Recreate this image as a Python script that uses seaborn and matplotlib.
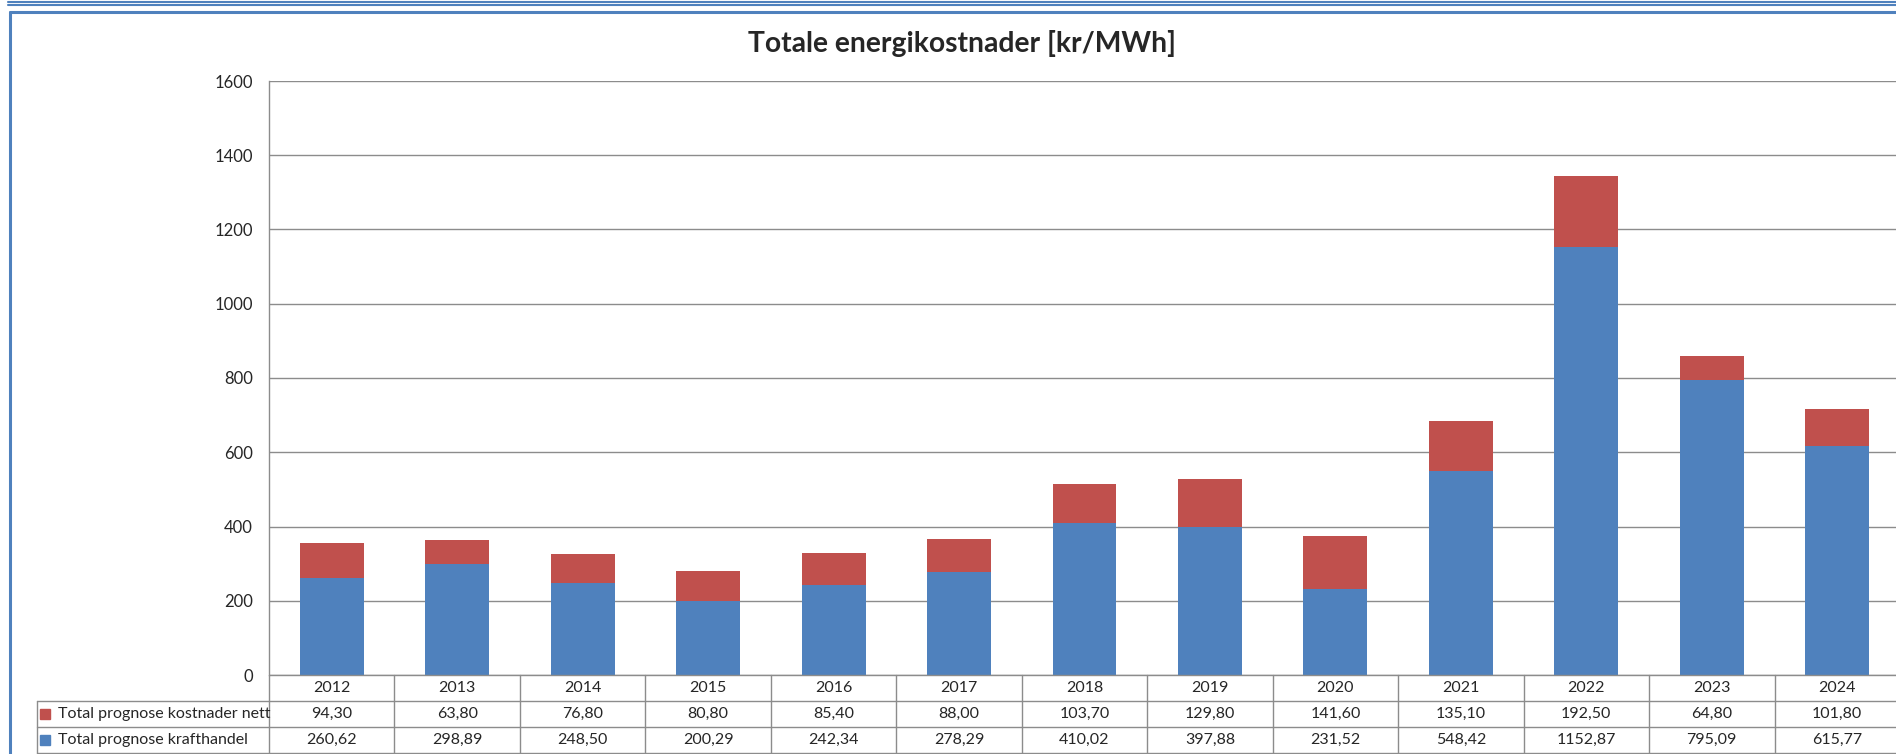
import numpy as np
import pandas as pd
import matplotlib
matplotlib.use("Agg")
import matplotlib.pyplot as plt
from matplotlib.lines import Line2D
import seaborn as sns

years = ["2012", "2013", "2014", "2015", "2016", "2017", "2018",
         "2019", "2020", "2021", "2022", "2023", "2024"]
kostnader_nett = [94.30, 63.80, 76.80, 80.80, 85.40, 88.00, 103.70,
                  129.80, 141.60, 135.10, 192.50, 64.80, 101.80]
krafthandel = [260.62, 298.89, 248.50, 200.29, 242.34, 278.29, 410.02,
               397.88, 231.52, 548.42, 1152.87, 795.09, 615.77]
series_labels = ["Total prognose kostnader nett", "Total prognose krafthandel"]
y_ticks = [0, 200, 400, 600, 800, 1000, 1200, 1400, 1600]

BLUE = "#4F81BD"
RED = "#C0504D"
GRID = "#8c8c8c"

sns.set_style("white")
plt.rcParams['font.family'] = ['Lato', 'DejaVu Sans']

df = pd.DataFrame({"year": years, "nett": kostnader_nett, "kraft": krafthandel})
df["total"] = df["nett"] + df["kraft"]

W, H = 1896, 754
fig = plt.figure(figsize=(W / 100, H / 100), dpi=100)
fig.patch.set_facecolor("white")

# main plot area (right edge runs slightly past the picture, like the original)
ax = fig.add_axes([269 / W, (H - 675) / H, (1900 - 269) / W, (675 - 81) / H])
sns.barplot(data=df, x="year", y="total", color=RED, width=0.51,
            saturation=1, linewidth=0, ax=ax, zorder=3)
sns.barplot(data=df, x="year", y="kraft", color=BLUE, width=0.51,
            saturation=1, linewidth=0, ax=ax, zorder=4)
ax.set_xlim(-0.5, len(years) - 0.5)
ax.set_ylim(0, 1600)
ax.set_yticks(y_ticks)
ax.set_yticklabels([str(t) for t in y_ticks], fontsize=12)
ax.set_xticks([])
ax.set_xlabel("")
ax.set_ylabel("")
ax.tick_params(axis="y", length=0, pad=11.5)
ax.yaxis.grid(True, color=GRID, linewidth=1.0, zorder=0)
ax.set_axisbelow(True)
for side in ["top", "right", "bottom"]:
    ax.spines[side].set_visible(False)
ax.spines["left"].set_color(GRID)
ax.spines["left"].set_linewidth(1.0)

# data table under the bars
tax = fig.add_axes([269 / W, (H - 753) / H, (1900 - 269) / W, (753 - 675) / H])
tax.set_xlim(-0.5, len(years) - 0.5)
tax.set_ylim(3, 0)
tax.axis("off")
label_left = -0.5 - (269 - 37) / 125.5
lkw = dict(color=GRID, linewidth=1.0, clip_on=False)
tax.plot([-0.5, len(years) - 0.5], [0, 0], **lkw)
for r in (1, 2, 3):
    tax.plot([label_left, len(years) - 0.5], [r, r], **lkw)
tax.plot([label_left, label_left], [1, 3], **lkw)
for i in range(len(years) + 1):
    tax.plot([i - 0.5, i - 0.5], [0, 3], **lkw)

fs = 11.5
for i, yr in enumerate(years):
    tax.text(i, 0.5, yr, ha="center", va="center", fontsize=fs)
    tax.text(i, 1.5, f"{kostnader_nett[i]:.2f}".replace(".", ","),
             ha="center", va="center", fontsize=fs)
    tax.text(i, 2.5, f"{krafthandel[i]:.2f}".replace(".", ","),
             ha="center", va="center", fontsize=fs)

for row, (lab, col) in enumerate(zip(series_labels, [RED, BLUE]), start=1):
    tax.plot([label_left + 0.066], [row + 0.5], marker="s", markersize=7.5,
             color=col, linestyle="none", clip_on=False)
    tax.text(label_left + 0.17, row + 0.5, lab, ha="left", va="center",
             fontsize=fs)

# title
fig.text(962 / W, (H - 52) / H, "Totale energikostnader [kr/MWh]",
         ha="center", va="baseline", fontsize=20.3, fontweight="bold")

# blue frame and double rule at the top
fig.add_artist(Line2D([8 / W, 1], [(H - 2) / H, (H - 2) / H], color=BLUE, linewidth=1.5))
fig.add_artist(Line2D([8 / W, 1], [(H - 5) / H, (H - 5) / H], color=BLUE, linewidth=1.5))
fig.add_artist(Line2D([9.5 / W, 1], [(H - 11.5) / H, (H - 11.5) / H], color=BLUE, linewidth=2.2))
fig.add_artist(Line2D([9.5 / W, 9.5 / W], [0, (H - 11.5) / H], color=BLUE, linewidth=2.2))

fig.savefig("out.png", dpi=100, facecolor="white")
